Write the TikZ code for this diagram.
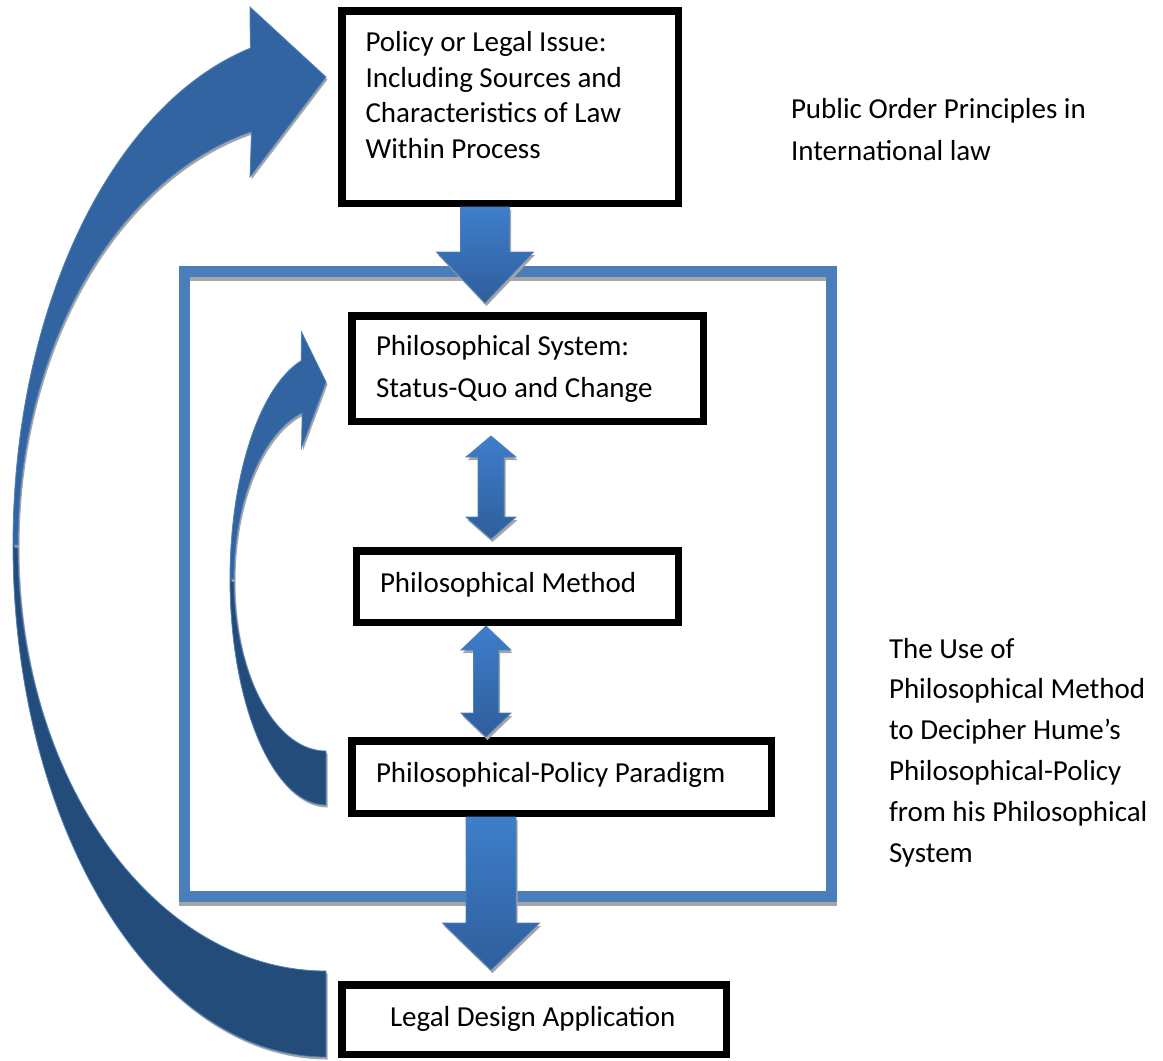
\documentclass[tikz,border=0pt]{standalone}
\usepackage{fontspec}
\setmainfont{Carlito}
\usetikzlibrary{calc}

\definecolor{framebl}{HTML}{4A7EBB}
\definecolor{arrowtop}{HTML}{3E7ECB}
\definecolor{arrowbot}{HTML}{2F5E9B}
\definecolor{arrowrim}{HTML}{4F81BD}
\definecolor{curvefront}{HTML}{3264A2}
\definecolor{curveback}{HTML}{234C7A}
\definecolor{shadowgr}{HTML}{A5A5A5}

\tikzset{
  box/.style={draw=black, line width=7.5pt, inner sep=0pt, outer sep=0pt},
  frame/.style={draw=framebl, line width=11pt, inner sep=0pt, outer sep=0pt,
    preaction={draw=shadowgr, transform canvas={yshift=-4pt}}},
  txt/.style={inner sep=0pt, outer sep=0pt, anchor=base west, align=left,
    font=\fontsize{29}{#1}\selectfont},
  txt/.default=35.4,
  blockarrow/.style={top color=arrowtop, bottom color=arrowbot, draw=arrowrim, line width=0.8pt,
    preaction={fill=shadowgr, transform canvas={shift={(1.5pt,-3pt)}}}},
  curvepart/.style={draw=arrowrim, line width=0.8pt,
    preaction={fill=shadowgr, transform canvas={shift={(1.5pt,-2.5pt)}}}}
}

\begin{document}
\begin{tikzpicture}[x=1pt, y=-1pt]
  \useasboundingbox (0,0) rectangle (1163,1061);

  % big loop from the application back to the issue
  \coordinate (bigc) at (326,545);
  \path[curvepart, fill=curveback] ($(bigc)+(180:313 and 512)$)
    arc[start angle=180, end angle=90, x radius=313, y radius=512]
    -- ($(bigc)+(90:308 and 426)$)
    arc[start angle=90, end angle=180, x radius=308, y radius=426] -- cycle;
  \path[curvepart, fill=curvefront] ($(bigc)+(180:313 and 512)$)
    arc[start angle=180, end angle=256, x radius=313, y radius=512]
    -- (250,7) -- (326,77) -- (250,177)
    -- ($(bigc)+(256:308 and 426)$)
    arc[start angle=256, end angle=180, x radius=308, y radius=426] -- cycle;

  % the process frame
  \node[frame, minimum width=647pt, minimum height=625pt] (process) at (508,584) {};

  % small loop from the paradigm back to the system
  \coordinate (smallc) at (326,579);
  \path[curvepart, fill=curveback] ($(smallc)+(180:96 and 226)$)
    arc[start angle=180, end angle=90, x radius=96, y radius=226]
    -- ($(smallc)+(90:92 and 172)$)
    arc[start angle=90, end angle=180, x radius=92, y radius=172] -- cycle;
  \path[curvepart, fill=curvefront] ($(smallc)+(180:96 and 226)$)
    arc[start angle=180, end angle=255, x radius=96, y radius=226]
    -- (301.5,332) -- (326,382) -- (301.5,448)
    -- ($(smallc)+(255:92 and 172)$)
    arc[start angle=255, end angle=180, x radius=92, y radius=172] -- cycle;

  % boxes
  \node[box, minimum width=336.5pt, minimum height=192.5pt] (policy) at (510,107) {};
  \node[box, minimum width=351.5pt, minimum height=105.5pt] (system) at (527.5,368.5) {};
  \node[box, minimum width=322pt, minimum height=71.5pt] (method) at (517.3,586.5) {};
  \node[box, minimum width=419.5pt, minimum height=72.5pt] (paradigm) at (561.5,777) {};
  \node[box, minimum width=384.5pt, minimum height=69.5pt] (legal) at (534,1019.5) {};

  % block arrows between the boxes
  \coordinate (issueTail) at (485,207);
  \coordinate (issueTip) at (485,303);
  \path[blockarrow] ($(issueTail)+(-24.5,0)$) -- ($(issueTail)+(24.5,0)$)
    -- ($(issueTip)+(24.5,-51)$) -- ($(issueTip)+(48.5,-51)$) -- (issueTip)
    -- ($(issueTip)+(-48.5,-51)$) -- ($(issueTip)+(-24.5,-51)$) -- cycle;

  \coordinate (sysTip) at (491,436);
  \coordinate (methTip) at (491,539);
  \path[blockarrow] (sysTip) -- ($(sysTip)+(25,21)$) -- ($(sysTip)+(13,21)$)
    -- ($(methTip)+(13,-22)$) -- ($(methTip)+(25,-22)$) -- (methTip)
    -- ($(methTip)+(-25,-22)$) -- ($(methTip)+(-13,-22)$)
    -- ($(sysTip)+(-13,21)$) -- ($(sysTip)+(-25,21)$) -- cycle;

  \coordinate (methUp) at (486,626);
  \coordinate (paraTip) at (486,737);
  \path[blockarrow] (methUp) -- ($(methUp)+(25,24)$) -- ($(methUp)+(12.5,24)$)
    -- ($(paraTip)+(12.5,-24)$) -- ($(paraTip)+(25,-24)$) -- (paraTip)
    -- ($(paraTip)+(-25,-24)$) -- ($(paraTip)+(-12.5,-24)$)
    -- ($(methUp)+(-12.5,24)$) -- ($(methUp)+(-25,24)$) -- cycle;

  \coordinate (paraTail) at (491,817);
  \coordinate (legalTip) at (491,970);
  \path[blockarrow] ($(paraTail)+(-25,0)$) -- ($(paraTail)+(25,0)$)
    -- ($(legalTip)+(25,-47)$) -- ($(legalTip)+(48.5,-47)$) -- (legalTip)
    -- ($(legalTip)+(-48.5,-47)$) -- ($(legalTip)+(-25,-47)$) -- cycle;

  % texts (base = last line)
  \node[txt] (policylbl) at (365.5,158) {Policy or Legal Issue:\\Including Sources and\\Characteristics of Law\\Within Process};
  \node[txt=42] (systemlbl) at (376,397) {Philosophical System:\\Status-Quo and Change};
  \node[txt] (methodlbl) at (380,592) {Philosophical Method};
  \node[txt] (paradigmlbl) at (376,782) {Philosophical-Policy Paradigm};
  \node[txt] (legallbl) at (390,1026) {Legal Design Application};
  \node[txt=42] (orderlbl) at (791,160) {Public Order Principles in\\International law};
  \node[txt=40.8] (uselbl) at (889,862) {The Use of\\Philosophical Method\\to Decipher Hume’s\\Philosophical-Policy\\from his Philosophical\\System};
\end{tikzpicture}
\end{document}
